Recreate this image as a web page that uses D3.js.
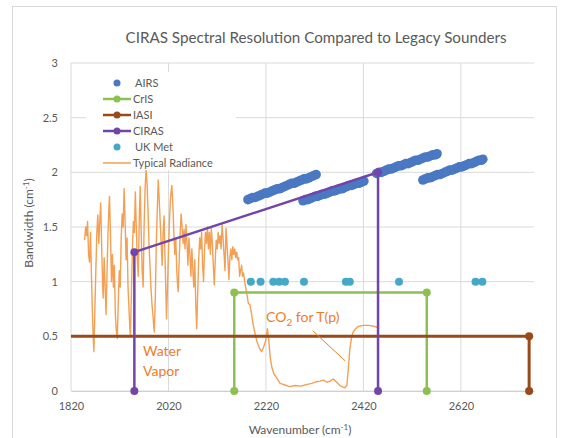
<!DOCTYPE html>
<html><head><meta charset="utf-8">
<script src="https://cdn.jsdelivr.net/npm/d3@7"></script>
<style>
body{margin:0;background:#fff;}
svg{display:block;font-family:Lato,"Open Sans",sans-serif;}
</style></head>
<body><svg id="c" width="563" height="438"></svg>
<script>
// ---- data ----
const title = "CIRAS Spectral Resolution Compared to Legacy Sounders";
const xTicks = [1820, 2020, 2220, 2420, 2620];
const yTicks = [0, 0.5, 1, 1.5, 2, 2.5, 3];
const yTickLabels = ["0", "0.5", "1", "1.5", "2", "2.5", "3"];
const legendNames = ["AIRS", "CrIS", "IASI", "CIRAS", "UK Met", "Typical Radiance"];

const airsWn = [
  2183,2188,2193,2198,2203,2208,2213,2218,2223,2228,2233,2238,2243,2248,2253,2258,2263,2268,2273,2278,2283,2288,2293,2298,2303,2308,2313,2318,2323,
  2296,2301,2306,2311,2316,2321,2326,2331,2336,2341,2346,2351,2356,2361,2366,2371,2376,2381,2386,2391,2396,2401,2406,2411,2416,2421,
  2447,2452,2457,2462,2467,2472,2477,2482,2487,2492,2497,2502,2507,2512,2517,2522,2527,2532,2537,2542,2547,2552,2557,2562,2567,2571,
  2542,2547,2552,2557,2562,2567,2572,2577,2582,2587,2592,2597,2602,2607,2612,2617,2622,2627,2632,2637,2642,2647,2652,2657,2662,2665];
const airsBw = [
  1.75,1.76,1.77,1.77,1.78,1.79,1.80,1.81,1.81,1.82,1.83,1.84,1.85,1.85,1.86,1.87,1.88,1.89,1.90,1.90,1.91,1.92,1.93,1.94,1.94,1.95,1.96,1.97,1.98,
  1.74,1.75,1.75,1.76,1.77,1.78,1.78,1.79,1.80,1.80,1.81,1.82,1.83,1.83,1.84,1.85,1.85,1.86,1.87,1.88,1.88,1.89,1.90,1.90,1.91,1.92,
  1.99,2.00,2.00,2.01,2.02,2.03,2.03,2.04,2.05,2.06,2.06,2.07,2.08,2.08,2.09,2.10,2.11,2.11,2.12,2.13,2.14,2.14,2.15,2.16,2.16,2.17,
  1.93,1.94,1.95,1.95,1.96,1.97,1.98,1.98,1.99,2.00,2.01,2.02,2.02,2.03,2.04,2.05,2.05,2.06,2.07,2.08,2.08,2.09,2.10,2.11,2.11,2.12];

const crisWn = [2155, 2155, 2550, 2550];
const crisBw = [0, 0.9, 0.9, 0];

const iasiWn = [645, 645, 2760, 2760];
const iasiBw = [0, 0.5, 0.5, 0];

const cirasWn = [1950, 1950, 2450, 2450];
const cirasBw = [0, 1.27, 2.0, 0];

const ukWn = [2189, 2209, 2235, 2247, 2259, 2298, 2384, 2392, 2493, 2650, 2664];
const ukBw = [1, 1, 1, 1, 1, 1, 1, 1, 1, 1, 1];

const radWn = [1848,1850,1852,1854,1856,1858,1860,1862,1864,1866,1867,1869,1871,1873,1875,1877,1879,1881,1883,1885,
  1886,1888,1890,1892,1894,1896,1898,1899,1901,1903,1905,1907,1909,1911,1913,1915,1917,1919,1921,1923,
  1925,1927,1929,1931,1933,1935,1937,1939,1941,1942,1944,1946,1948,1950,1952,1954,1956,1958,1960,1962,
  1964,1966,1968,1970,1972,1974,1976,1978,1980,1982,1984,1986,1988,1990,1991,1993,1995,1997,1999,2001,
  2003,2005,2007,2009,2011,2013,2015,2016,2018,2020,2022,2024,2026,2027,2029,2031,2033,2035,2037,2039,
  2040,2042,2044,2046,2048,2050,2052,2054,2056,2058,2060,2062,2064,2066,2068,2070,2072,2074,2076,2078,
  2080,2082,2084,2086,2088,2090,2092,2094,2096,2098,2100,2102,2104,2106,2108,2110,2112,2114,2116,2118,
  2120,2122,2124,2126,2128,2130,2132,2134,2136,2138,2140,2142,2144,2146,2148,2150,2152,2154,2156,2158,
  2160,2162,2164,2166,2168,2170,2172,2174,2177,2180,2184,2187,2190,2194,2198,2201,2204,2208,2211,2215,
  2219,2223,2226,2229,2232,2236,2242,2249,2259,2269,2280,2290,2296,2305,2314,2324,2331,2338,2345,2352,
  2358,2365,2372,2378,2382,2386,2389,2392,2396,2399,2404,2409,2420,2433,2443,2450];
const radVal = [1.38,1.50,1.42,1.55,1.25,1.18,1.45,1.05,0.70,0.45,0.36,0.75,1.10,1.45,1.61,1.35,1.55,1.72,1.30,0.95,
  0.85,1.22,0.95,0.70,1.10,1.45,1.70,1.78,1.45,1.00,1.25,0.95,1.15,0.70,0.55,0.48,0.80,1.10,0.95,1.40,
  1.62,1.50,1.85,1.55,1.20,1.40,0.95,0.75,0.55,0.51,0.90,1.30,1.55,1.45,1.82,1.50,1.20,1.05,1.55,1.87,
  1.45,1.10,0.95,1.50,1.85,2.02,1.90,1.65,1.35,1.15,0.95,0.80,0.70,0.58,0.54,0.85,1.35,1.65,1.93,1.75,
  1.55,1.35,1.15,1.45,1.60,1.20,0.85,0.66,0.95,1.30,1.55,1.75,1.85,1.88,1.70,1.45,1.25,1.40,1.10,0.95,
  0.91,1.20,1.45,1.62,1.50,1.35,1.48,1.30,1.52,1.35,1.15,1.40,1.25,1.05,1.30,1.10,0.95,1.20,0.80,0.57,
  0.90,1.20,1.40,1.30,1.45,1.15,1.00,1.30,1.45,1.35,1.50,1.30,1.45,1.25,1.49,1.35,1.15,0.97,1.20,1.38,
  1.30,1.45,1.35,1.42,1.30,1.52,1.40,1.25,1.10,1.49,1.35,1.20,1.02,1.22,1.30,1.20,1.32,1.25,1.30,1.22,
  1.27,1.20,1.22,1.05,1.10,1.15,1.05,1.08,0.98,0.91,0.80,0.79,0.72,0.60,0.52,0.46,0.42,0.38,0.36,0.40,
  0.45,0.57,0.45,0.30,0.22,0.16,0.12,0.07,0.055,0.04,0.05,0.045,0.05,0.06,0.07,0.085,0.09,0.10,0.08,0.09,
  0.11,0.08,0.05,0.035,0.03,0.05,0.20,0.38,0.50,0.54,0.57,0.59,0.60,0.60,0.59,0.58];

// ---- colours ----
const cAIRS = "#4a78c2", cCrIS = "#8cc152", cIASI = "#9a4a1a", cCIRAS = "#7345a8",
      cUK = "#45a8c8", cRad = "#f3a055", cAnn = "#ee7d1f", cText = "#595959", cGrid = "#dadada";

const svg = d3.select("#c");
const L = 71, R = 534, T = 63, B = 391;
const x = d3.scaleLinear().domain([1820, 2770]).range([L, R]);
const y = d3.scaleLinear().domain([0, 3]).range([B, T]);

// chart border
svg.append("rect").attr("x", 12.5).attr("y", 6.5).attr("width", 544).attr("height", 440)
  .attr("fill", "none").attr("stroke", "#d9d9d9");

// title
svg.append("text").attr("x", 316).attr("y", 43).attr("text-anchor", "middle")
  .attr("font-size", 15.2).attr("fill", cText).text(title);

// clip
svg.append("clipPath").attr("id", "pc").append("rect")
  .attr("x", L).attr("y", T - 10).attr("width", R - L + 10).attr("height", B - T + 20);

// grid
const g = svg.append("g");
g.selectAll(".hg").data(yTicks).join("line")
  .attr("x1", L).attr("x2", R).attr("y1", d => y(d)).attr("y2", d => y(d))
  .attr("stroke", cGrid).attr("stroke-width", 1);
g.selectAll(".vg").data(xTicks).join("line")
  .attr("x1", d => x(d)).attr("x2", d => x(d)).attr("y1", T).attr("y2", B)
  .attr("stroke", cGrid).attr("stroke-width", 1);

// axes
const xAxis = d3.axisBottom(x).tickValues(xTicks).tickSize(0).tickPadding(11).tickFormat(d3.format("d"));
const ax = svg.append("g").attr("transform", `translate(0,${B})`).call(xAxis);
ax.select(".domain").attr("stroke", "#d0d0d0");
ax.selectAll("text").attr("font-size", 11).attr("fill", cText).attr("font-family", "Lato,'Open Sans',sans-serif");

const yAxis = d3.axisLeft(y).tickValues(yTicks).tickSize(0).tickPadding(13)
  .tickFormat((d, i) => yTickLabels[i]);
const ay = svg.append("g").attr("transform", `translate(${L},0)`).call(yAxis);
ay.select(".domain").remove();
ay.selectAll("text").attr("font-size", 11).attr("fill", cText).attr("font-family", "Lato,'Open Sans',sans-serif");

// axis titles
const xt = svg.append("text").attr("x", 300).attr("y", 434).attr("text-anchor", "middle")
  .attr("font-size", 12).attr("fill", cText);
xt.append("tspan").text("Wavenumber (cm");
xt.append("tspan").attr("dy", -4).attr("font-size", 8).text("-1");
xt.append("tspan").attr("dy", 4).text(")");

const yt = svg.append("text").attr("transform", "translate(33,223) rotate(-90)")
  .attr("text-anchor", "middle").attr("font-size", 12).attr("fill", cText);
yt.append("tspan").text("Bandwidth (cm");
yt.append("tspan").attr("dy", -4).attr("font-size", 8).text("-1");
yt.append("tspan").attr("dy", 4).text(")");

const plot = svg.append("g").attr("clip-path", "url(#pc)");
const line = d3.line().x(d => x(d[0])).y(d => y(d[1]));
const zip = (a, b) => a.map((v, i) => [v, b[i]]);

// radiance
plot.append("path").datum(zip(radWn, radVal)).attr("d", line)
  .attr("fill", "none").attr("stroke", cRad).attr("stroke-width", 1.4).attr("stroke-linejoin", "round");

// AIRS
plot.selectAll(".airs").data(zip(airsWn, airsBw)).join("circle")
  .attr("cx", d => x(d[0])).attr("cy", d => y(d[1])).attr("r", 4.8).attr("fill", cAIRS);

function lineSeries(wn, bw, col, w) {
  const d = zip(wn, bw);
  plot.append("path").datum(d).attr("d", line).attr("fill", "none")
    .attr("stroke", col).attr("stroke-width", w);
  plot.selectAll(null).data(d).join("circle")
    .attr("cx", p => x(p[0])).attr("cy", p => y(p[1])).attr("r", 4).attr("fill", col);
}
lineSeries(crisWn, crisBw, cCrIS, 2.5);
lineSeries(iasiWn, iasiBw, cIASI, 3);
lineSeries(cirasWn, cirasBw, cCIRAS, 2.5);

// UK Met
plot.selectAll(".uk").data(zip(ukWn, ukBw)).join("circle")
  .attr("cx", d => x(d[0])).attr("cy", d => y(d[1])).attr("r", 4).attr("fill", cUK);

// annotations
svg.append("text").attr("x", 143).attr("y", 356).attr("font-size", 14).attr("fill", cAnn).text("Water");
svg.append("text").attr("x", 143).attr("y", 376).attr("font-size", 14).attr("fill", cAnn).text("Vapor");
const co = svg.append("text").attr("x", 266).attr("y", 322).attr("font-size", 14).attr("fill", cAnn);
co.append("tspan").text("CO");
co.append("tspan").attr("dy", 4).attr("font-size", 10).text("2");
co.append("tspan").attr("dy", -4).text(" for T(p)");
svg.append("line").attr("x1", 312.7).attr("y1", 330.7).attr("x2", 345).attr("y2", 360.7)
  .attr("stroke", cAnn).attr("stroke-width", 1);

// legend
const lg = svg.append("g");
lg.append("rect").attr("x", 86).attr("y", 72).attr("width", 150).attr("height", 98).attr("fill", "#fff");
const types = ["dot", "line", "line", "line", "dot", "plain"];
const cols = [cAIRS, cCrIS, cIASI, cCIRAS, cUK, cRad];
legendNames.forEach((n, i) => {
  const yy = 83 + i * 16;
  if (types[i] === "dot") {
    lg.append("circle").attr("cx", 117).attr("cy", yy).attr("r", 3.5).attr("fill", cols[i]);
  } else {
    lg.append("line").attr("x1", 103).attr("x2", 131).attr("y1", yy).attr("y2", yy)
      .attr("stroke", cols[i]).attr("stroke-width", types[i] === "line" ? 2.5 : 1.5);
    if (types[i] === "line") lg.append("circle").attr("cx", 117).attr("cy", yy).attr("r", 3.5).attr("fill", cols[i]);
  }
  lg.append("text").attr("x", i === 0 || i === 4 ? 135 : 133).attr("y", yy + 4).attr("font-size", 11)
    .attr("fill", cText).text(n);
});
</script></body></html>
